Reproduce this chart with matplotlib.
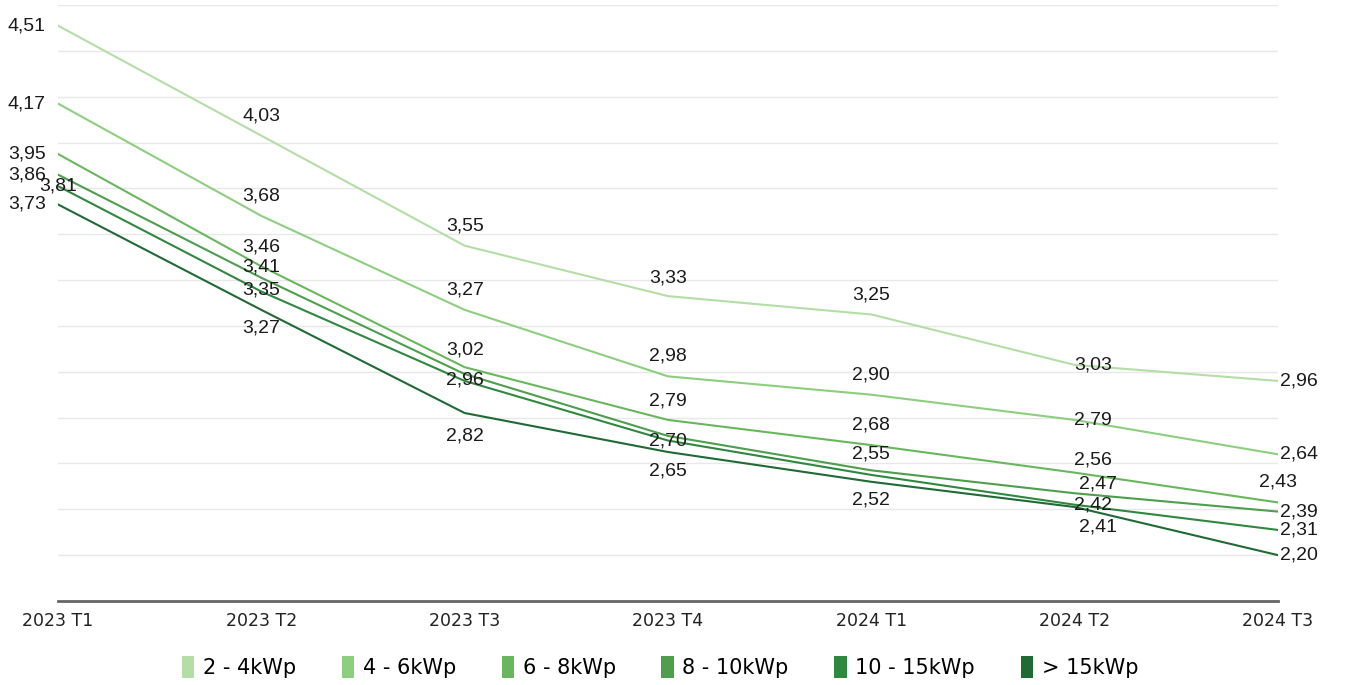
import numpy as np
import matplotlib
matplotlib.use("Agg")
import matplotlib.pyplot as plt
from matplotlib.patches import Patch
from matplotlib import font_manager

# quarters on the x axis
quarters = ["2023 T1", "2023 T2", "2023 T3", "2023 T4", "2024 T1", "2024 T2", "2024 T3"]

# price per series
s_2_4 = [4.51, 4.03, 3.55, 3.33, 3.25, 3.03, 2.96]
s_4_6 = [4.17, 3.68, 3.27, 2.98, 2.90, 2.79, 2.64]
s_6_8 = [3.95, 3.46, 3.02, 2.79, 2.68, 2.56, 2.43]
s_8_10 = [3.86, 3.41, 2.99, 2.72, 2.57, 2.47, 2.39]
s_10_15 = [3.81, 3.35, 2.96, 2.70, 2.55, 2.42, 2.31]
s_15 = [3.73, 3.27, 2.82, 2.65, 2.52, 2.41, 2.20]

names = ["2 - 4kWp", "4 - 6kWp", "6 - 8kWp", "8 - 10kWp", "10 - 15kWp", "> 15kWp"]
series = [s_2_4, s_4_6, s_6_8, s_8_10, s_10_15, s_15]
colors = ["#b3dea6", "#8ccf7e", "#69b75d", "#4d9e4d", "#2f8840", "#1f6a35"]

# label offsets in pixels (dx, dy) per series / column; None = label hidden
offsets = [
    [(-31, 0), (0, 20), (0, 20), (0, 18), (0, 19), (18, 0), (21, 0)],
    [(-31, 0), (0, 20), (0, 20), (0, 20), (0, 20), (18, 0), (21, 0)],
    [(-31, 0), (0, 19), (0, 17), (0, 19), (0, 20), (18, 13), (0, 20)],
    [(-31, 0), (0, 11), None, None, None, (23, 9), (21, 0)],
    [(0, 0), (0, 2), (0, 1), (0, 0), (0, 21), (18, 0), (21, 0)],
    [(-31, 0), (0, -18), (0, -23), (0, -19), (0, -18), (23, -20), (21, 0)],
]

names_avail = {f.name for f in font_manager.fontManager.ttflist}
narrow = "Liberation Sans Narrow" if "Liberation Sans Narrow" in names_avail else "DejaVu Sans"

fig = plt.figure(figsize=(13.46, 6.85), dpi=100)
ax = fig.add_axes([58/1346, 1 - 601/685, 1220/1346, 596/685])

x = np.arange(len(quarters))
for vals, c in zip(series, colors):
    ax.plot(x, vals, color=c, lw=1.5, zorder=3)

for vals, offs in zip(series, offsets):
    for i, (v, o) in enumerate(zip(vals, offs)):
        if o is None:
            continue
        ax.annotate(f"{v:.2f}".replace(".", ","), (i, v), xytext=o,
                    textcoords="offset pixels", ha="center", va="center",
                    fontsize=14, family="Liberation Sans", color="#1a1a1a",
                    zorder=4)

ax.set_xlim(0, len(quarters) - 1)
ax.set_ylim(2.0, 4.6)
ax.set_yticks(np.arange(2.2, 4.61, 0.2))
ax.yaxis.grid(True, color="#e8e8e8", lw=1)
ax.tick_params(axis="y", left=False, labelleft=False)
ax.set_xticks(x)
ax.set_xticklabels(quarters, fontsize=12.5, family=narrow, color="#222222")
ax.tick_params(axis="x", length=0, pad=8)
for sp in ["top", "right", "left"]:
    ax.spines[sp].set_visible(False)
ax.spines["bottom"].set_color("#666666")
ax.spines["bottom"].set_linewidth(2)
ax.set_axisbelow(True)

handles = [Patch(facecolor=c, edgecolor="none") for c in colors]
fig.legend(handles, names, loc="center", bbox_to_anchor=(660/1346, 1 - 667/685),
           ncol=6, frameon=False, handlelength=0.6, handleheight=1.3,
           handletextpad=0.4, columnspacing=2.2,
           prop={"family": narrow, "size": 15})

fig.savefig("out.png", dpi=100)
